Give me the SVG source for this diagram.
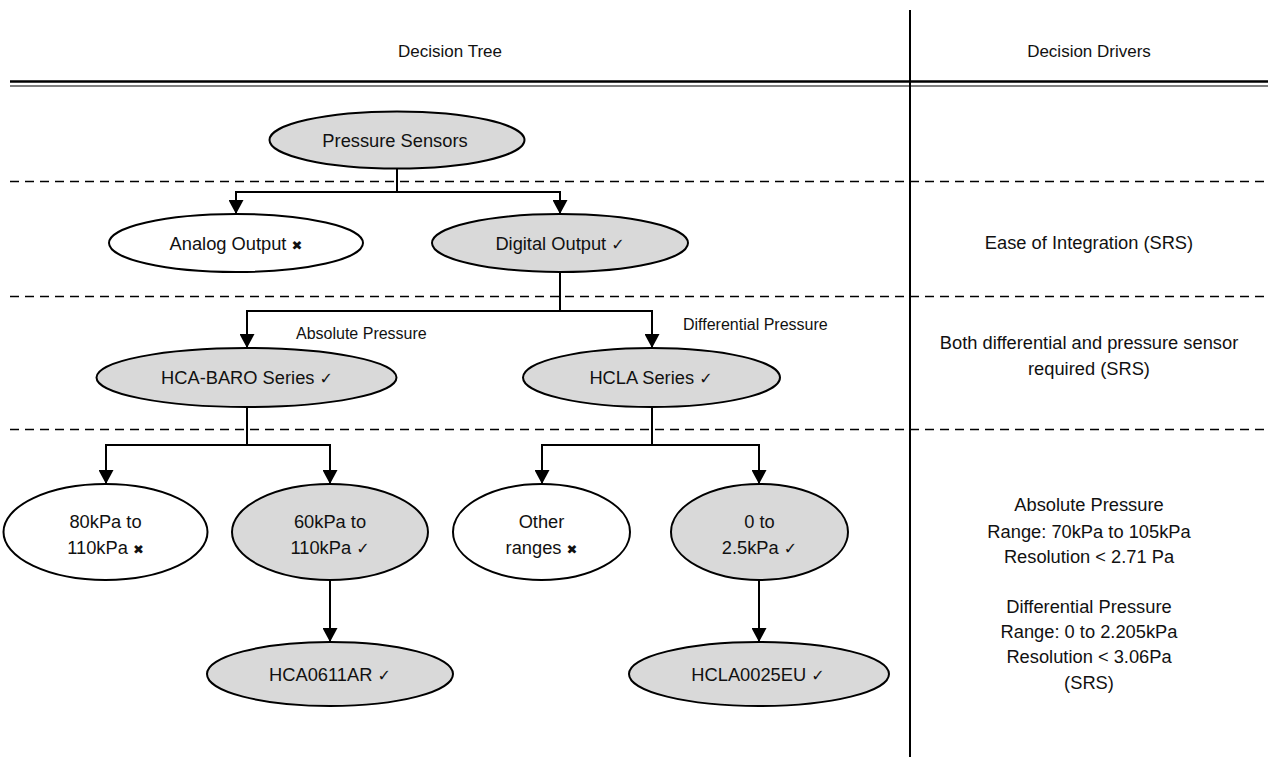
<svg xmlns="http://www.w3.org/2000/svg" width="1268" height="757" viewBox="0 0 1268 757">
<style>
  text { font-family: "Liberation Sans", Arial, sans-serif; font-size: 18.3px; fill: #111; }
  .c { text-anchor: middle; }
  .sm { font-size: 16px; }
  .hd { font-size: 17px; }
  .sym { font-family: "DejaVu Sans", sans-serif; font-size: 16px; }
  .x { font-family: "DejaVu Sans", sans-serif; font-size: 13px; }
  .node ellipse { stroke: #000; stroke-width: 2; }
  .g { fill: #d9d9d9; }
  .w { fill: #fff; }
  .conn path { fill: none; stroke: #000; stroke-width: 2; marker-end: url(#arr); }
  .conn path.plain { marker-end: none; }
  .dash { stroke: #000; stroke-width: 1.6; stroke-dasharray: 9 6; }
</style>
<defs>
  <marker id="arr" viewBox="0 0 14 15" refX="14" refY="7.5" markerWidth="14" markerHeight="15" markerUnits="userSpaceOnUse" orient="auto">
    <path d="M0,0 L14,7.5 L0,15 Z" fill="#000"/>
  </marker>
</defs>
<rect width="1268" height="757" fill="#fff"/>

<g id="frame">
  <line x1="910" y1="10" x2="910" y2="757" stroke="#000" stroke-width="2"/>
  <line x1="10" y1="81.5" x2="1268" y2="81.5" stroke="#000" stroke-width="2.5"/>
  <line x1="10" y1="86" x2="1268" y2="86" stroke="#000" stroke-width="1.2"/>
  <line class="dash" x1="10" y1="181.5" x2="1268" y2="181.5"/>
  <line class="dash" x1="10" y1="296.5" x2="1268" y2="296.5"/>
  <line class="dash" x1="10" y1="429.5" x2="1268" y2="429.5"/>
  <text class="c hd" x="450" y="57">Decision Tree</text>
  <text class="c hd" x="1089" y="57">Decision Drivers</text>
</g>

<g id="drivers">
  <text class="c" x="1089" y="249">Ease of Integration (SRS)</text>
  <text class="c" x="1089" y="349">Both differential and pressure sensor</text>
  <text class="c" x="1089" y="375">required (SRS)</text>
  <text class="c" x="1089" y="511">Absolute Pressure</text>
  <text class="c" x="1089" y="538">Range: 70kPa to 105kPa</text>
  <text class="c" x="1089" y="563">Resolution &lt; 2.71 Pa</text>
  <text class="c" x="1089" y="613">Differential Pressure</text>
  <text class="c" x="1089" y="638">Range: 0 to 2.205kPa</text>
  <text class="c" x="1089" y="663">Resolution &lt; 3.06Pa</text>
  <text class="c" x="1089" y="689">(SRS)</text>
</g>

<g id="connectors" class="conn">
  <path class="plain" d="M397,169 V192"/>
  <path d="M397,192 H236 V214"/>
  <path d="M397,192 H560 V214"/>
  <path class="plain" d="M560,272 V311"/>
  <path d="M560,311 H247 V348"/>
  <path d="M560,311 H652 V348"/>
  <path class="plain" d="M247,407 V445"/>
  <path d="M247,445 H106 V484"/>
  <path d="M247,445 H330 V484"/>
  <path class="plain" d="M652,407 V445"/>
  <path d="M652,445 H542 V484"/>
  <path d="M652,445 H759 V484"/>
  <path d="M330,580 V642"/>
  <path d="M759,580 V642"/>
  <text class="sm" x="296" y="339">Absolute Pressure</text>
  <text class="sm" x="683" y="330">Differential Pressure</text>
</g>

<g id="n-pressure" class="node">
  <ellipse class="g" cx="397" cy="140" rx="127.5" ry="28.5"/>
  <text class="c" x="395" y="147">Pressure Sensors</text>
</g>
<g id="n-analog" class="node">
  <ellipse class="w" cx="236" cy="243" rx="127" ry="29"/>
  <text class="c" x="236" y="249.5">Analog Output <tspan class="x">✖</tspan></text>
</g>
<g id="n-digital" class="node">
  <ellipse class="g" cx="560" cy="243" rx="128" ry="29"/>
  <text class="c" x="560" y="249.5">Digital Output <tspan class="sym">✓</tspan></text>
</g>
<g id="n-hcabaro" class="node">
  <ellipse class="g" cx="246.5" cy="377.5" rx="150" ry="29.5"/>
  <text class="c" x="247" y="384">HCA-BARO Series <tspan class="sym">✓</tspan></text>
</g>
<g id="n-hcla" class="node">
  <ellipse class="g" cx="651.5" cy="377.5" rx="128.5" ry="29.5"/>
  <text class="c" x="651" y="384">HCLA Series <tspan class="sym">✓</tspan></text>
</g>
<g id="n-80kpa" class="node">
  <ellipse class="w" cx="105.5" cy="532" rx="102" ry="48"/>
  <text class="c" x="105.5" y="527.5">80kPa to</text>
  <text class="c" x="105.5" y="553.5">110kPa <tspan class="x">✖</tspan></text>
</g>
<g id="n-60kpa" class="node">
  <ellipse class="g" cx="330" cy="532" rx="98" ry="48"/>
  <text class="c" x="330" y="527.5">60kPa to</text>
  <text class="c" x="330" y="553.5">110kPa <tspan class="sym">✓</tspan></text>
</g>
<g id="n-other" class="node">
  <ellipse class="w" cx="541.5" cy="532" rx="88.5" ry="48"/>
  <text class="c" x="541.5" y="527.5">Other</text>
  <text class="c" x="541.5" y="553.5">ranges <tspan class="x">✖</tspan></text>
</g>
<g id="n-0kpa" class="node">
  <ellipse class="g" cx="759.5" cy="532" rx="88.5" ry="48"/>
  <text class="c" x="759.5" y="527.5">0 to</text>
  <text class="c" x="759.5" y="553.5">2.5kPa <tspan class="sym">✓</tspan></text>
</g>
<g id="n-hca0611ar" class="node">
  <ellipse class="g" cx="330" cy="674" rx="123" ry="32"/>
  <text class="c" x="330" y="680.5">HCA0611AR <tspan class="sym">✓</tspan></text>
</g>
<g id="n-hcla0025eu" class="node">
  <ellipse class="g" cx="759" cy="674" rx="130" ry="32"/>
  <text class="c" x="758" y="680.5">HCLA0025EU <tspan class="sym">✓</tspan></text>
</g>
</svg>
